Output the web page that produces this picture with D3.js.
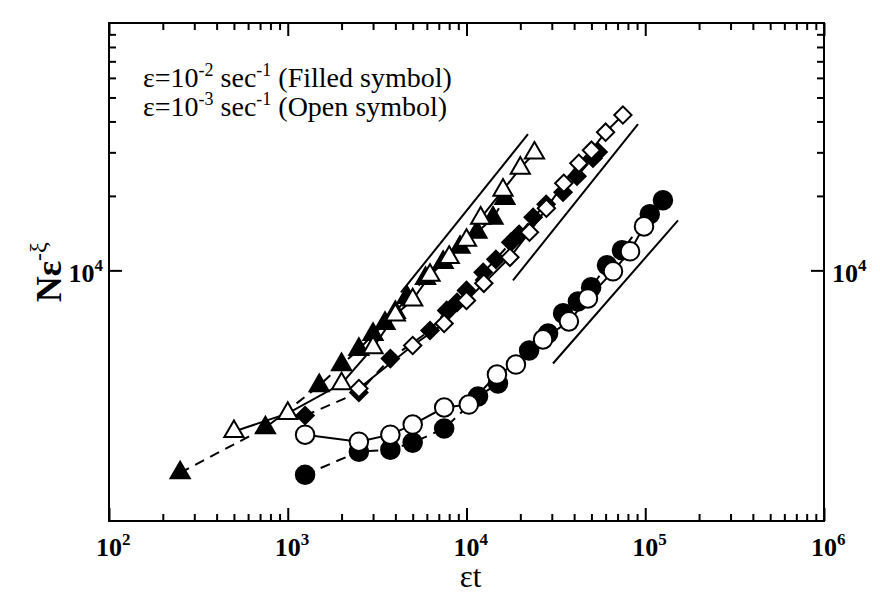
<!DOCTYPE html>
<html>
<head>
<meta charset="utf-8">
<script src="https://cdn.jsdelivr.net/npm/d3@7"></script>
<style>
body { margin: 0; background: #fff; }
text { font-family: "Liberation Serif", "DejaVu Serif", serif; fill: #000; }
</style>
</head>
<body>
<div id="chart"></div>
<script>
// values: x = εt, y = Nε^-ξ
var filledTriX = [250, 750, 1500, 2000, 2500, 3000, 3500, 4000, 4650, 5900, 7400, 9200, 11450, 14070, 16400];
var filledTriY = [1520, 2310, 3420, 4160, 4790, 5510, 6100, 6760, 7780, 9280, 10770, 12400, 14260, 16250, 19550];

var openTriX = [500, 1000, 2000, 3000, 4000, 5000, 6250, 8000, 10000, 12000, 16000, 20000, 24000];
var openTriY = [2230, 2640, 3480, 4870, 6600, 7600, 9550, 11290, 13230, 16250, 21100, 25900, 29800];

var filledDiaX = [1250, 2500, 3750, 6250, 7750, 8850, 10000, 12400, 14600, 17700, 19700, 23600, 27900, 34700, 41500, 51000, 54500];
var filledDiaY = [2590, 3210, 4400, 5715, 6890, 7420, 8300, 9815, 11080, 12980, 13990, 16400, 18490, 20700, 24040, 28390, 30070];

var openDiaX = [2500, 5000, 7500, 10000, 12500, 17500, 22500, 28000, 35000, 42500, 50000, 60000, 75000];
var openDiaY = [3330, 4970, 6100, 7560, 8860, 11290, 14260, 17820, 22490, 27100, 30620, 36200, 42480];

var filledCircX = [1250, 2500, 3750, 5000, 7500, 11600, 15000, 22400, 28600, 34700, 42000, 49800, 61100, 74100, 106000, 125600];
var filledCircY = [1493, 1850, 1885, 2012, 2293, 3090, 3487, 4745, 5560, 6700, 7490, 8535, 10480, 12050, 16870, 19190];

var openCircX = [1250, 2500, 3750, 5000, 7500, 10300, 14800, 18900, 26800, 37400, 47800, 66000, 82200, 98400];
var openCircY = [2167, 2030, 2167, 2380, 2790, 2868, 3790, 4160, 5260, 6220, 7700, 9910, 11940, 15060];

// straight guide lines, [start, end]
var guideX = [[4300, 22080], [18200, 91100], [30480, 152500]];
var guideY = [[8145, 35530], [9110, 38990], [4202, 15930]];

var xMajor = [1e2, 1e3, 1e4, 1e5, 1e6];
var xExp = ["2", "3", "4", "5", "6"];
var yMajor = [1e4];
var yExp = ["4"];
var yMinor = [2e4, 3e4, 4e4, 5e4, 6e4, 7e4, 8e4, 9e4];

var margin = {top: 23, right: 56, bottom: 79, left: 109},
    width = 880 - margin.left - margin.right,
    height = 600 - margin.top - margin.bottom;

var xMinor = [];
xMajor.slice(0, -1).forEach(function(d) {
  for (var k = 2; k < 10; k++) xMinor.push(d * k);
});

var svg = d3.select("#chart")
  .append("svg")
    .attr("width", 880)
    .attr("height", 600)
  .append("g")
    .attr("transform", "translate(" + margin.left + "," + margin.top + ")");

var x = d3.scaleLog()
  .domain([1e2, 1e6])
  .range([0, width]);

var y = d3.scaleLog()
  .domain([970, 1e5])
  .range([height, 0]);

function pairs(xs, ys) {
  return xs.map(function(d, i) { return {x: d, y: ys[i]}; });
}

// ticks, all pointing inward
function tickAxis(axis, vals, len, tr) {
  var g = svg.append("g")
    .attr("transform", tr)
    .call(axis.tickValues(vals).tickSize(-len).tickFormat(""));
  g.select(".domain").remove();
  g.selectAll("line").attr("stroke", "#000").attr("stroke-width", 2);
}
tickAxis(d3.axisBottom(x), xMajor, 13, "translate(0," + height + ")");
tickAxis(d3.axisBottom(x), xMinor, 7, "translate(0," + height + ")");
tickAxis(d3.axisTop(x), xMajor, 13, "translate(0,0)");
tickAxis(d3.axisTop(x), xMinor, 7, "translate(0,0)");
tickAxis(d3.axisLeft(y), yMajor, 13, "translate(0,0)");
tickAxis(d3.axisLeft(y), yMinor, 7, "translate(0,0)");
tickAxis(d3.axisRight(y), yMajor, 13, "translate(" + width + ",0)");
tickAxis(d3.axisRight(y), yMinor, 7, "translate(" + width + ",0)");

svg.append("rect")
  .attr("width", width)
  .attr("height", height)
  .attr("fill", "none")
  .attr("stroke", "#000")
  .attr("stroke-width", 2);

// tick labels
var xl = svg.selectAll(".xlab")
  .data(xMajor)
  .enter().append("text")
    .attr("class", "xlab")
    .attr("x", function(d) { return x(d) - 13; })
    .attr("y", height + 35)
    .style("font-weight", "bold")
    .style("font-size", "26px")
    .text("10");
xl.append("tspan")
  .attr("dy", -11)
  .style("font-size", "17px")
  .text(function(d, i) { return xExp[i]; });

var yl = svg.selectAll(".ylab")
  .data(yMajor)
  .enter().append("text")
    .attr("class", "ylab")
    .attr("x", -6)
    .attr("y", function(d) { return y(d) + 12; })
    .attr("text-anchor", "end")
    .style("font-weight", "bold")
    .style("font-size", "26px")
    .text("10");
yl.append("tspan")
  .attr("dy", -11)
  .style("font-size", "17px")
  .text(function(d, i) { return yExp[i]; });

var yr = svg.selectAll(".yrlab")
  .data(yMajor)
  .enter().append("text")
    .attr("class", "yrlab")
    .attr("x", width + 8)
    .attr("y", function(d) { return y(d) + 12; })
    .style("font-weight", "bold")
    .style("font-size", "26px")
    .text("10");
yr.append("tspan")
  .attr("dy", -11)
  .style("font-size", "17px")
  .text(function(d, i) { return yExp[i]; });

// axis titles
svg.append("text")
  .attr("x", width / 2 + 4)
  .attr("y", height + 66)
  .attr("text-anchor", "middle")
  .style("font-size", "31px")
  .text("εt");

var yt = svg.append("text")
  .attr("transform", "translate(" + (-48) + "," + (y(1e4) + 32) + ") rotate(-90)")
  .style("font-size", "36px")
  .style("font-weight", "bold")
  .text("Nε");
yt.append("tspan")
  .attr("dy", -15)
  .style("font-size", "24px")
  .style("font-weight", "normal")
  .text("-ξ");

// guide lines
svg.selectAll(".guide")
  .data(guideX)
  .enter().append("line")
    .attr("x1", function(d) { return x(d[0]); })
    .attr("x2", function(d) { return x(d[1]); })
    .attr("y1", function(d, i) { return y(guideY[i][0]); })
    .attr("y2", function(d, i) { return y(guideY[i][1]); })
    .attr("stroke", "#000")
    .attr("stroke-width", 2);

var line = d3.line()
  .x(function(d) { return x(d.x); })
  .y(function(d) { return y(d.y); });

var series = [
  {d: pairs(filledTriX, filledTriY), sym: d3.symbolTriangle, size: 160, filled: true},
  {d: pairs(filledDiaX, filledDiaY), sym: d3.symbolSquare, size: 150, filled: true},
  {d: pairs(filledCircX, filledCircY), sym: d3.symbolCircle, size: 270, filled: true},
  {d: pairs(openTriX, openTriY), sym: d3.symbolTriangle, size: 160, filled: false},
  {d: pairs(openDiaX, openDiaY), sym: d3.symbolSquare, size: 150, filled: false},
  {d: pairs(openCircX, openCircY), sym: d3.symbolCircle, size: 270, filled: false}
];

series.forEach(function(s) {
  svg.append("path")
    .datum(s.d)
    .attr("fill", "none")
    .attr("stroke", "#000")
    .attr("stroke-width", 2)
    .attr("stroke-dasharray", s.filled ? "10,7" : null)
    .attr("d", line);

  svg.selectAll(null)
    .data(s.d)
    .enter().append("path")
      .attr("transform", function(d) {
        return "translate(" + x(d.x) + "," + y(d.y) + ")" +
          (s.sym === d3.symbolSquare ? " rotate(45)" : "");
      })
      .attr("d", d3.symbol().type(s.sym).size(s.size))
      .attr("fill", s.filled ? "#000" : "#fff")
      .attr("stroke", "#000")
      .attr("stroke-width", 2);
});

// legend
var leg1 = svg.append("text")
  .attr("x", 34)
  .attr("y", 64)
  .style("font-size", "28px")
  .text("ε=10");
leg1.append("tspan").attr("dy", -11).style("font-size", "18px").text("-2");
leg1.append("tspan").attr("dy", 11).text(" sec");
leg1.append("tspan").attr("dy", -11).style("font-size", "18px").text("-1");
leg1.append("tspan").attr("dy", 11).text(" (Filled symbol)");

var leg2 = svg.append("text")
  .attr("x", 34)
  .attr("y", 93)
  .style("font-size", "28px")
  .text("ε=10");
leg2.append("tspan").attr("dy", -11).style("font-size", "18px").text("-3");
leg2.append("tspan").attr("dy", 11).text(" sec");
leg2.append("tspan").attr("dy", -11).style("font-size", "18px").text("-1");
leg2.append("tspan").attr("dy", 11).text(" (Open symbol)");
</script>
</body>
</html>
